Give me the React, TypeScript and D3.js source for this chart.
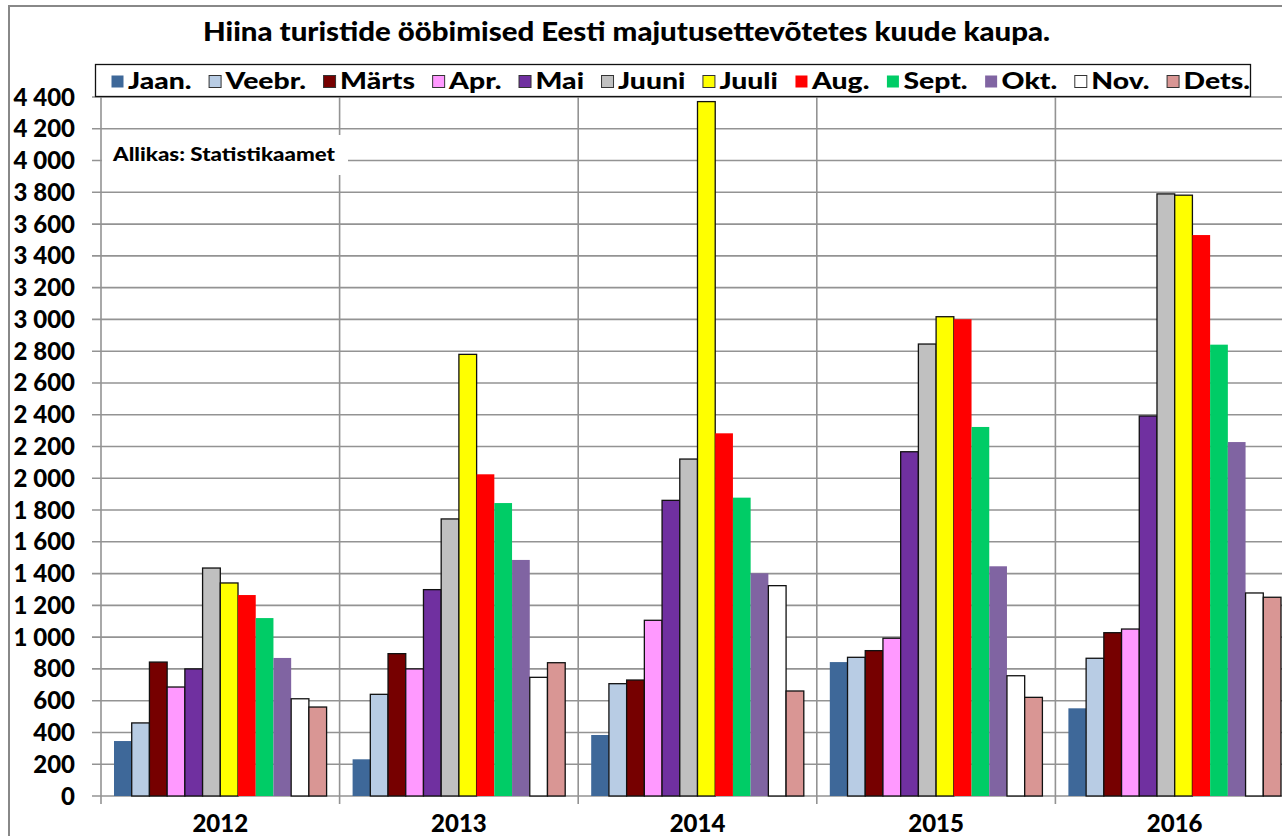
import React, { useEffect, useRef } from "react";
import * as d3 from "d3";

const years = ["2012", "2013", "2014", "2015", "2016"];
const months = ["Jaan.", "Veebr.", "Märts", "Apr.", "Mai", "Juuni", "Juuli", "Aug.", "Sept.", "Okt.", "Nov.", "Dets."];

// ööbimised aastate kaupa (2012..2016)
const jaan = [346, 231, 384, 843, 552];
const veebr = [460, 640, 707, 873, 867];
const marts = [843, 896, 730, 915, 1028];
const apr = [686, 800, 1106, 993, 1051];
const mai = [800, 1299, 1861, 2167, 2392];
const juuni = [1435, 1744, 2121, 2845, 3790];
const juuli = [1341, 2780, 4371, 3017, 3782];
const aug = [1265, 2025, 2283, 3001, 3531];
const sept = [1120, 1844, 1878, 2323, 2841];
const okt = [869, 1486, 1402, 1446, 2228];
const nov = [612, 747, 1324, 757, 1278];
const dets = [560, 839, 661, 621, 1251];

const seriesValues = [jaan, veebr, marts, apr, mai, juuni, juuli, aug, sept, okt, nov, dets];

const colors = ["#3e6899", "#b8cce4", "#760000", "#ff99ff", "#7030a0", "#c0c0c0", "#ffff00", "#ff0000", "#00cc66", "#8064a2", "#ffffff", "#d99694"];
const outlined = [false, true, true, true, true, true, true, false, false, false, true, true];

const yTicks = d3.range(0, 4401, 200);

const FONT = "Lato, 'Noto Sans', sans-serif";

export default function App() {
  const svgRef = useRef<SVGSVGElement>(null);

  useEffect(() => {
    const svg = d3.select(svgRef.current);
    svg.selectAll("*").remove();

    const width = 1282;
    const height = 836;
    const left = 101;
    const catW = 238.6;
    const top = 97;
    const bottom = 796;

    const fmt = d3.formatLocale({ decimal: ",", thousands: " ", grouping: [3], currency: ["", ""] }).format(",d");

    const x = d3.scaleBand().domain(years).range([left, left + catW * years.length]);
    const xm = d3.scaleBand().domain(months).range([13, catW - 13]);
    const y = d3.scaleLinear().domain([0, 4400]).range([bottom, top]);

    svg.append("rect").attr("width", width).attr("height", height).attr("fill", "#fff");

    // outer chart border
    svg
      .append("rect")
      .attr("x", 9)
      .attr("y", 6)
      .attr("width", width + 20)
      .attr("height", height + 20)
      .attr("fill", "none")
      .attr("stroke", "#888")
      .attr("stroke-width", 2);

    // horizontal gridlines
    svg
      .append("g")
      .selectAll("line")
      .data(yTicks)
      .enter()
      .append("line")
      .attr("x1", left - 9)
      .attr("x2", width + 20)
      .attr("y1", (d) => y(d))
      .attr("y2", (d) => y(d))
      .attr("stroke", "#939393")
      .attr("stroke-width", 1.6);

    // vertical category lines
    const bounds = years.map((yr) => x(yr)!).concat([left + catW * years.length]);
    svg
      .append("g")
      .selectAll("line")
      .data(bounds)
      .enter()
      .append("line")
      .attr("x1", (d) => d)
      .attr("x2", (d) => d)
      .attr("y1", top)
      .attr("y2", bottom + 8)
      .attr("stroke", "#939393")
      .attr("stroke-width", 1.6);

    // y labels
    svg
      .append("g")
      .selectAll("text")
      .data(yTicks)
      .enter()
      .append("text")
      .attr("x", 75)
      .attr("y", (d) => y(d) + 8.5)
      .attr("text-anchor", "end")
      .style("font-family", FONT)
      .style("font-weight", 900)
      .style("font-size", "24px")
      .text((d) => fmt(d));

    // bars
    seriesValues.forEach((vals, mi) => {
      svg
        .append("g")
        .selectAll("rect")
        .data(vals)
        .enter()
        .append("rect")
        .attr("x", (_, i) => x(years[i])! + xm(months[mi])!)
        .attr("y", (d) => y(d))
        .attr("width", xm.bandwidth())
        .attr("height", (d) => bottom - y(d))
        .attr("fill", colors[mi])
        .attr("stroke", outlined[mi] ? "#111" : "none")
        .attr("stroke-width", 1.3);
    });

    // year labels
    svg
      .append("g")
      .selectAll("text")
      .data(years)
      .enter()
      .append("text")
      .attr("x", (d) => x(d)! + catW / 2)
      .attr("y", 832)
      .attr("text-anchor", "middle")
      .style("font-family", FONT)
      .style("font-weight", 900)
      .style("font-size", "24px")
      .text((d) => d);

    // source note
    svg.append("rect").attr("x", 102).attr("y", 135).attr("width", 246).attr("height", 40).attr("fill", "#fff");
    svg
      .append("text")
      .attr("x", 113)
      .attr("y", 161)
      .attr("textLength", 222)
      .attr("lengthAdjust", "spacingAndGlyphs")
      .style("font-family", FONT)
      .style("font-weight", 900)
      .style("font-size", "19px")
      .text("Allikas: Statistikaamet");

    // title
    svg
      .append("text")
      .attr("x", 203)
      .attr("y", 41)
      .attr("textLength", 847)
      .attr("lengthAdjust", "spacingAndGlyphs")
      .style("font-family", FONT)
      .style("font-weight", 900)
      .style("font-size", "26px")
      .text("Hiina turistide ööbimised Eesti majutusettevõtetes kuude kaupa.");

    // legend
    const lg = svg.append("g");
    lg.append("rect")
      .attr("x", 95.5)
      .attr("y", 64.5)
      .attr("width", 1155)
      .attr("height", 32)
      .attr("fill", "#fff")
      .attr("stroke", "#111")
      .attr("stroke-width", 1.3);

    const items = lg
      .selectAll("g")
      .data(months)
      .enter()
      .append("g");
    const labels = items
      .append("text")
      .attr("y", 89)
      .style("font-family", FONT)
      .style("font-weight", 900)
      .style("font-size", "22px")
      .text((d) => d);
    const widths: number[] = [];
    labels.each(function () {
      widths.push((this as SVGTextElement).getComputedTextLength());
    });
    const mk = 12;
    const mkGap = 5;
    const gap = 17;
    const startX = 111;
    const endX = 1250;
    const avail = endX - startX - months.length * (mk + mkGap) - (months.length - 1) * gap;
    const sx = avail / d3.sum(widths);
    let cx = startX;
    items.each(function (_, i) {
      const g = d3.select(this);
      g.insert("rect", "text")
        .attr("x", cx + 0.5)
        .attr("y", 75.5)
        .attr("width", mk)
        .attr("height", mk)
        .attr("fill", colors[i])
        .attr("stroke", outlined[i] ? "#333" : "none")
        .attr("stroke-width", 1);
      g.select("text")
        .attr("x", cx + mk + mkGap)
        .attr("textLength", widths[i] * sx)
        .attr("lengthAdjust", "spacingAndGlyphs");
      cx += mk + mkGap + widths[i] * sx + gap;
    });
  }, []);

  return (
    <svg
      ref={svgRef}
      width={1282}
      height={836}
      style={{ position: "absolute", left: 0, top: 0, display: "block" }}
    />
  );
}
